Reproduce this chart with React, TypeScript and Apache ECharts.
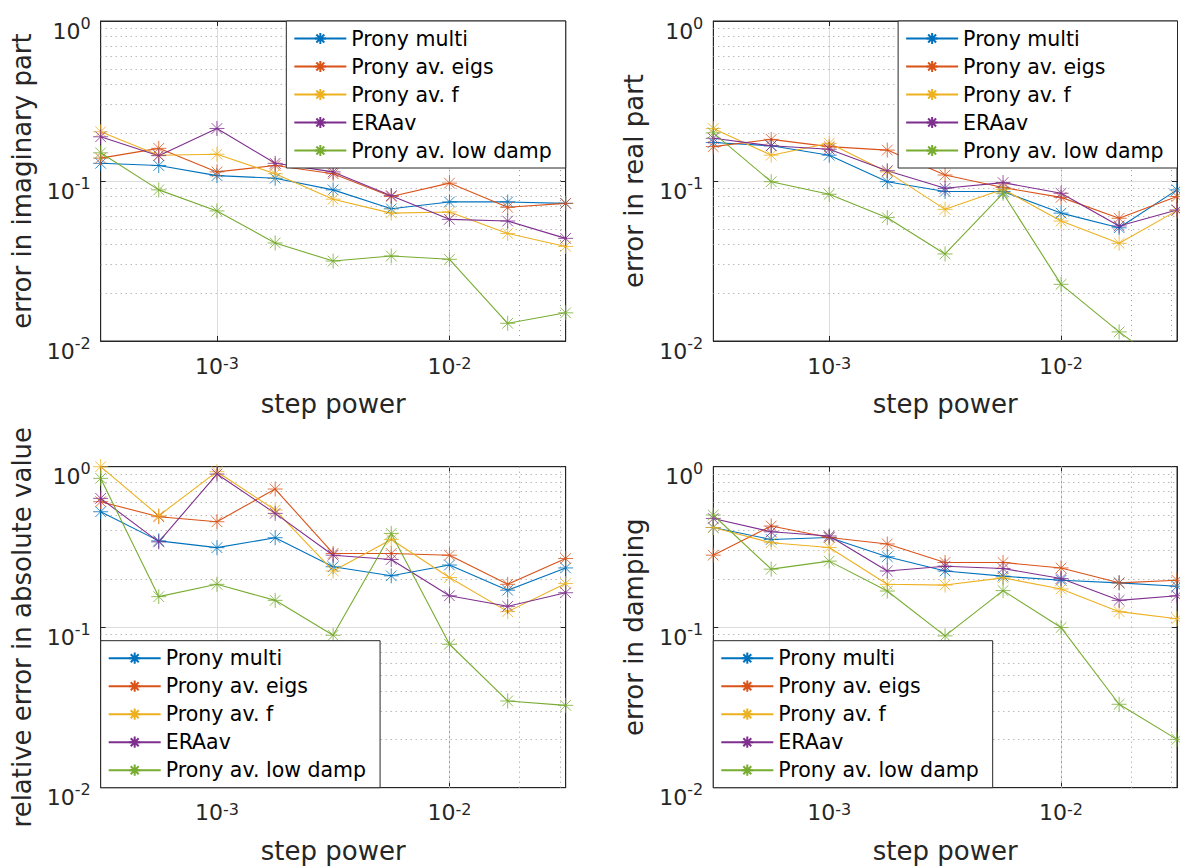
import React, { useEffect, useRef } from 'react';
import * as echarts from 'echarts';

const stepPower = [0.000316, 0.000562, 0.001, 0.00178, 0.00316, 0.00562, 0.01, 0.0178, 0.0316];
const seriesNames = ['Prony multi', 'Prony av. eigs', 'Prony av. f', 'ERAav', 'Prony av. low damp'];
const seriesColors = ['#0072BD', '#D95319', '#EDB120', '#7E2F8E', '#77AC30'];

const xTickExponents = [-3, -2];
const yTickExponents = [-2, -1, 0];

const minorX = [0.0004, 0.0005, 0.0006, 0.0007, 0.0008, 0.0009, 0.002, 0.003, 0.004, 0.005, 0.006, 0.007, 0.008, 0.009, 0.02, 0.03];
const minorY = [0.02, 0.03, 0.04, 0.05, 0.06, 0.07, 0.08, 0.09, 0.2, 0.3, 0.4, 0.5, 0.6, 0.7, 0.8, 0.9];

// error in imaginary part
const imagMulti = [0.129, 0.125, 0.108, 0.104, 0.088, 0.067, 0.074, 0.074, 0.0725];
const imagEigs = [0.139, 0.16, 0.114, 0.125, 0.111, 0.08, 0.097, 0.0685, 0.0725];
const imagF = [0.203, 0.145, 0.147, 0.111, 0.077, 0.063, 0.064, 0.047, 0.039];
const imagERA = [0.189, 0.144, 0.213, 0.129, 0.114, 0.081, 0.0576, 0.0562, 0.0438];
const imagLow = [0.15, 0.088, 0.065, 0.041, 0.0316, 0.034, 0.0324, 0.0129, 0.015];

// error in real part
const realMulti = [0.174, 0.166, 0.145, 0.099, 0.086, 0.086, 0.063, 0.051, 0.088];
const realEigs = [0.164, 0.182, 0.164, 0.156, 0.109, 0.091, 0.079, 0.0585, 0.08];
const realF = [0.213, 0.145, 0.172, 0.114, 0.0665, 0.0887, 0.0562, 0.0408, 0.0653];
const realERA = [0.185, 0.166, 0.158, 0.116, 0.09, 0.0977, 0.0838, 0.0524, 0.0659];
const realLow = [0.2, 0.099, 0.0826, 0.059, 0.035, 0.0838, 0.0226, 0.0114, 0.0062];

// relative error in absolute value
const absMulti = [0.524, 0.345, 0.313, 0.361, 0.238, 0.209, 0.244, 0.17, 0.234];
const absEigs = [0.605, 0.488, 0.454, 0.726, 0.288, 0.288, 0.281, 0.185, 0.268];
const absF = [1.0, 0.495, 0.931, 0.537, 0.224, 0.352, 0.204, 0.125, 0.187];
const absERA = [0.635, 0.34, 0.9, 0.512, 0.281, 0.264, 0.157, 0.135, 0.164];
const absLow = [0.846, 0.155, 0.185, 0.147, 0.0891, 0.384, 0.0783, 0.0347, 0.0326];

// error in damping
const dampMulti = [0.418, 0.352, 0.362, 0.275, 0.224, 0.208, 0.196, 0.189, 0.18];
const dampEigs = [0.281, 0.427, 0.362, 0.33, 0.253, 0.253, 0.234, 0.189, 0.196];
const dampF = [0.418, 0.336, 0.314, 0.185, 0.183, 0.203, 0.173, 0.125, 0.113];
const dampERA = [0.476, 0.393, 0.37, 0.224, 0.24, 0.232, 0.201, 0.147, 0.157];
const dampLow = [0.5, 0.23, 0.258, 0.168, 0.0883, 0.169, 0.0995, 0.0331, 0.02];

const FONT = 'DejaVu Sans';
const INK = '#262626';
const STAR = 'path://M0,-10L0,10M-10,0L10,0M-7.1,-7.1L7.1,7.1M-7.1,7.1L7.1,-7.1';

const panels = [
  { yName: 'error in imaginary part', data: [imagMulti, imagEigs, imagF, imagERA, imagLow],
    grid: { left: 100.7, top: 21, width: 465, height: 320 },
    legend: { right: 614.3, top: 21 } },
  { yName: 'error in real part', data: [realMulti, realEigs, realF, realERA, realLow],
    grid: { left: 713.3, top: 21, width: 464, height: 320 },
    legend: { right: 2.5, top: 21 } },
  { yName: 'relative error in absolute value', data: [absMulti, absEigs, absF, absERA, absLow],
    grid: { left: 100.7, top: 466.7, width: 465, height: 321 },
    legend: { left: 100.7, bottom: 80.3 } },
  { yName: 'error in damping', data: [dampMulti, dampEigs, dampF, dampERA, dampLow],
    grid: { left: 713.3, top: 466.7, width: 464, height: 321 },
    legend: { left: 713.3, bottom: 80.3 } },
];

function powLabel(v: number, allowed: number[]) {
  const e = Math.log10(v);
  const r = Math.round(e);
  if (Math.abs(e - r) > 1e-6) return '';
  if (allowed.indexOf(r) < 0) return '';
  return '{b|10}{s|' + r + '}';
}

const richX = {
  b: { fontSize: 22, fontFamily: FONT, color: INK, lineHeight: 22, padding: [5, 0, 0, 0], verticalAlign: 'bottom' },
  s: { fontSize: 16, fontFamily: FONT, color: INK, lineHeight: 16, verticalAlign: 'top' },
};
const richY = {
  b: { fontSize: 22, fontFamily: FONT, color: INK, lineHeight: 22, padding: [10, 0, 0, 0], verticalAlign: 'top' },
  s: { fontSize: 16, fontFamily: FONT, color: INK, lineHeight: 16, padding: [5, 0, 0, 0], verticalAlign: 'top' },
};

export default function App() {
  const ref = useRef<HTMLDivElement>(null);
  useEffect(() => {
    document.body.style.margin = '0';
    if (!ref.current) return;
    const chart = echarts.init(ref.current, null, { renderer: 'svg' });
    const grid: any[] = [];
    const xAxis: any[] = [];
    const yAxis: any[] = [];
    const series: any[] = [];
    const legend: any[] = [];

    panels.forEach((p, i) => {
      grid.push({ ...p.grid, show: true, borderColor: INK, borderWidth: 1, backgroundColor: '#fff', containLabel: false });
      const xBase = {
        type: 'log', logBase: 10, min: 0.000316227766, max: 0.0316227766, splitNumber: 2, gridIndex: i,
        axisLine: { show: true, lineStyle: { color: INK, width: 1 } },
        axisTick: { show: true, inside: true, length: 5, lineStyle: { color: INK } },
      };
      const yBase = {
        type: 'log', logBase: 10, min: 0.01, max: 1, splitNumber: 2, gridIndex: i,
        axisLine: { show: true, lineStyle: { color: INK, width: 1 } },
        axisTick: { show: true, inside: true, length: 5, lineStyle: { color: INK } },
      };
      xAxis.push({
        ...xBase, position: 'bottom',
        name: 'step power', nameLocation: 'middle', nameGap: 50,
        nameTextStyle: { fontSize: 26, fontFamily: FONT, color: INK },
        axisLabel: { show: true, margin: 14, fontSize: 22, fontFamily: FONT, color: INK,
          formatter: (v: number) => powLabel(v, xTickExponents), rich: richX },
        splitLine: { show: true, lineStyle: { color: '#dcdcdc', width: 1 } },
      });
      xAxis.push({ ...xBase, position: 'top', axisLabel: { show: false }, splitLine: { show: false } });
      yAxis.push({
        ...yBase, position: 'left',
        name: p.yName, nameLocation: 'middle', nameGap: 66,
        nameTextStyle: { fontSize: 26, fontFamily: FONT, color: INK },
        axisLabel: { show: true, margin: 10, fontSize: 22, fontFamily: FONT, color: INK,
          formatter: (v: number) => powLabel(v, yTickExponents), rich: richY },
        splitLine: { show: true, lineStyle: { color: '#dcdcdc', width: 1 } },
      });
      yAxis.push({ ...yBase, position: 'right', axisLabel: { show: false }, splitLine: { show: false } });

      series.push({
        type: 'line', name: 'minor-grid-' + i, xAxisIndex: i * 2, yAxisIndex: i * 2, data: [],
        silent: true, symbol: 'none',
        markLine: {
          silent: true, symbol: 'none', z: 1, animation: false,
          label: { show: false },
          lineStyle: { type: [1, 4], color: '#9a9a9a', width: 1 },
          emphasis: { disabled: true },
          data: [...minorX.map((x) => ({ xAxis: x })), ...minorY.map((y) => ({ yAxis: y }))],
        },
      });

      p.data.forEach((vals, k) => {
        series.push({
          type: 'line', name: seriesNames[k], xAxisIndex: i * 2, yAxisIndex: i * 2,
          data: stepPower.map((x, j) => [x, vals[j]]),
          symbol: STAR, symbolSize: 15, showSymbol: true, clip: true, z: 3,
          lineStyle: { color: seriesColors[k], width: 1.1 },
          itemStyle: { color: seriesColors[k], borderColor: seriesColors[k], borderWidth: 0.8 },
          emphasis: { disabled: true },
        });
      });

      legend.push({
        ...p.legend, orient: 'vertical', data: seriesNames,
        itemWidth: 52, itemHeight: 14, itemGap: 7.0, padding: [7, 14, 7, 7],
        textStyle: { fontSize: 20.5, fontFamily: FONT, color: '#000' },
        borderColor: INK, borderWidth: 1, backgroundColor: '#fff', borderRadius: 0,
        selectedMode: false,
      });
    });

    chart.setOption({ animation: false, backgroundColor: '#fff', grid, xAxis, yAxis, series, legend });
    return () => chart.dispose();
  }, []);
  return <div ref={ref} style={{ width: 1180, height: 868 }} />;
}
